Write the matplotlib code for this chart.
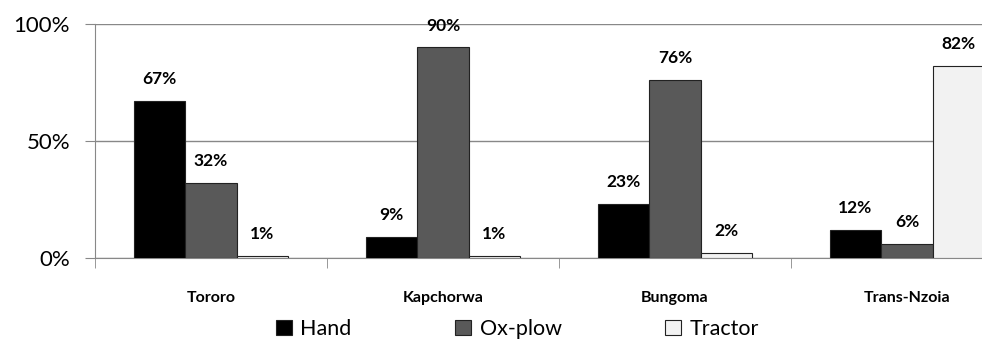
import numpy as np
import matplotlib.pyplot as plt
from matplotlib.patches import Patch
from matplotlib.ticker import PercentFormatter

# data
districts = ['Tororo', 'Kapchorwa', 'Bungoma', 'Trans-Nzoia']
hand = [67, 9, 23, 12]
ox_plow = [32, 90, 76, 6]
tractor = [1, 1, 2, 82]
series_names = ['Hand', 'Ox-plow', 'Tractor']

colors = ['#000000', '#595959', '#f2f2f2']
font = ['Lato', 'DejaVu Sans']

fig = plt.figure(figsize=(9.82, 3.43), dpi=100)
# axes runs past the right edge, like the cropped original
ax = fig.add_axes([95 / 982, 85 / 343, 928 / 982, 234 / 343])

x = np.arange(len(districts))
w = 0.222
for i, (vals, c) in enumerate(zip([hand, ox_plow, tractor], colors)):
    bars = ax.bar(x + (i - 1) * w, vals, w, color=c, edgecolor='#222222',
                  linewidth=0.8, zorder=3)
    for b, v in zip(bars, vals):
        ax.annotate(f'{v}%', (b.get_x() + b.get_width() / 2, b.get_height()),
                    xytext=(0, 10), textcoords='offset points',
                    ha='center', va='bottom', fontsize=12.5,
                    fontweight='bold', family=font, zorder=4)

ax.set_xlim(-0.5, len(districts) - 0.5)
ax.set_ylim(0, 100)
ax.set_yticks([0, 50, 100])
ax.yaxis.set_major_formatter(PercentFormatter(decimals=0))
ax.grid(axis='y', color='#888888', linewidth=1, zorder=0)

ax.set_xticks(x)
ax.set_xticklabels(districts, fontsize=11.5, fontweight='bold', family=font)
ax.set_xticks(np.arange(len(districts) + 1) - 0.5, minor=True)
ax.tick_params(axis='x', which='major', length=0, pad=24)
ax.tick_params(axis='x', which='minor', length=7, color='#888888')
ax.tick_params(axis='y', length=7, color='#888888', pad=11, labelsize=16)
for lab in ax.get_yticklabels():
    lab.set_family(font)

for s in ['top', 'right']:
    ax.spines[s].set_visible(False)
for s in ['left', 'bottom']:
    ax.spines[s].set_color('#888888')

handles = [Patch(facecolor=c, edgecolor='#222222', linewidth=0.8) for c in colors]
fig.legend(handles, series_names, loc='lower center', ncol=3,
           bbox_to_anchor=(0.527, -0.045), frameon=False,
           prop={'family': font, 'size': 15.5}, handlelength=0.75,
           handleheight=0.75, handletextpad=0.4, columnspacing=4.8)

fig.savefig('out.png', dpi=100)
